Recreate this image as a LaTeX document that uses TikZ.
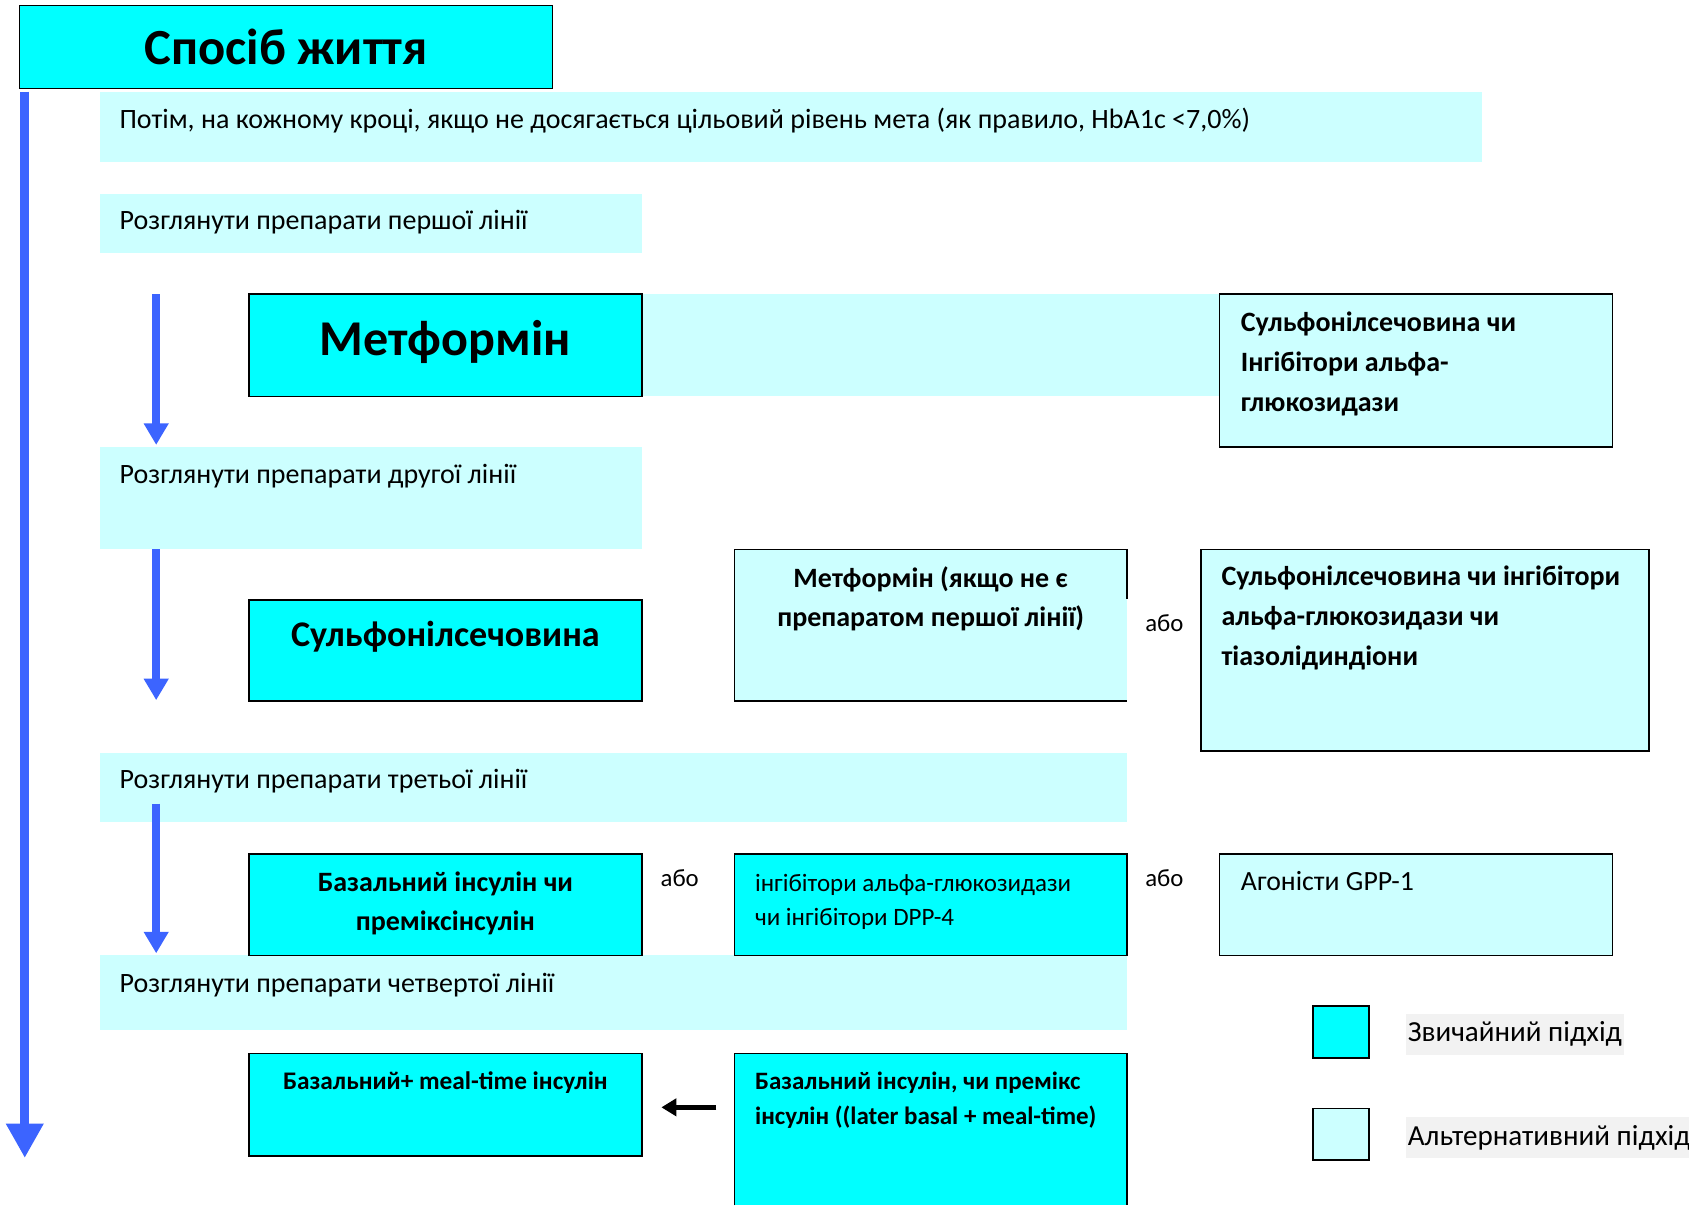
\documentclass[tikz,border=0pt]{standalone}
\usepackage{fontspec}
\setmainfont{Carlito}
\usetikzlibrary{arrows.meta,calc}
\definecolor{usual}{HTML}{00FFFF}
\definecolor{altern}{HTML}{CCFFFF}
\definecolor{flowblue}{RGB}{60,100,255}
\definecolor{legendbg}{HTML}{F2F2F2}
\newcommand{\fsz}[2]{\fontsize{#1}{#2}\selectfont}
\newcommand{\firstline}{\rule{0pt}{1em}}
\begin{document}
\begin{tikzpicture}[x=1pt,y=-1pt,
  every node/.style={inner sep=0pt,outer sep=0pt},
  sz/.style 2 args={minimum width=#1pt,minimum height=#2pt},
  frame/.style={draw=black,line width=1.5pt},
  usualbox/.style={frame,fill=usual,anchor=north west},
  altbox/.style={frame,fill=altern,anchor=north west},
  band/.style={fill=altern,anchor=north west},
  steptext/.style={font=\fsz{26}{31},anchor=base west},
  boldtext/.style={font={\bfseries\fsz{26}{37}}},
  ortext/.style={font=\fsz{23}{28},anchor=base},
  legtext/.style={font=\fsz{27}{33},anchor=base west,fill=legendbg,
    text height=26pt,text depth=12pt,inner xsep=2pt},
  flow/.style={draw=flowblue,line width=7pt,-{Triangle[width=22pt,length=20pt]}},
]
\useasboundingbox (0,0) rectangle (1568,1119);

% light bands for the treatment steps
\node[band,sz={1283}{65}] (goal) at (93,85) {};
\node[band,sz={503}{55}] (line1) at (93,180) {};
\node[band,sz={901}{95}] (metband) at (231,273) {};
\node[band,sz={503}{95}] (line2) at (93,415) {};
\node[band,sz={953}{64}] (line3) at (93,699) {};
\node[band,sz={953}{69}] (line4) at (93,887) {};

% boxes
\node[usualbox,sz={495}{77}] (life) at (18,5) {};
\node[usualbox,sz={365}{95}] (metf) at (231,273) {};
\node[altbox,sz={365}{142}] (sualt) at (1132,273) {};
\node[usualbox,sz={365}{94}] (sulf) at (231,557) {};
\node[band,sz={364}{141}] (metf2) at (682,510) {};
\draw[line width=1.5pt] ($(metf2.north east)+(0,46)$) -- (metf2.north east)
  -- (metf2.north west) -- (metf2.south west) -- (metf2.south east);
\node[altbox,sz={416}{187}] (suthree) at (1115,510) {};
\node[usualbox,sz={365}{94}] (basal) at (231,793) {};
\node[usualbox,sz={364}{94}] (inhib) at (682,793) {};
\node[altbox,sz={365}{94}] (agon) at (1132,793) {};
\node[usualbox,sz={365}{95}] (bmeal) at (231,978) {};
\node[fill=usual,anchor=north west,sz={364}{141}] (bpre) at (682,978) {};
\draw[line width=1.5pt] (bpre.south west) -- (bpre.north west)
  -- (bpre.north east) -- (bpre.south east);
\node[usualbox,sz={52}{48}] (legusual) at (1219,934) {};
\node[altbox,sz={52}{48}] (legalt) at (1219,1029) {};

% texts
\node[font={\bfseries\fsz{47}{52}},anchor=base] (lifet) at (265.5,60) {Спосіб життя};
\node[steptext] (goalt) at (111,119) {Потім, на кожному кроці, якщо не досягається цільовий рівень мета (як правило, HbA1c <7,0\%)};
\node[steptext] (line1t) at (111,213) {Розглянути препарати першої лінії};
\node[font={\bfseries\fsz{46.5}{52}},anchor=base] (metft) at (413.5,330) {Метформін};
\node[boldtext,anchor=north west,align=left] (sualtt) at (1152,282)
  {\firstline Сульфонілсечовина чи\\Інгібітори альфа-\\глюкозидази};
\node[steptext] (line2t) at (111,449) {Розглянути препарати другої лінії};
\node[font={\bfseries\fsz{33.5}{40}},anchor=base] (sulft) at (413.5,600) {Сульфонілсечовина};
\node[boldtext,anchor=north,align=center] (metf2t) at (864,519)
  {\firstline Метформін (якщо не є\\препаратом першої лінії)};
\node[ortext] (orA) at (1081,586) {або};
\node[boldtext,anchor=north west,align=left] (suthreet) at (1134,518)
  {\firstline Сульфонілсечовина чи інгібітори\\альфа-глюкозидази чи\\тіазолідиндіони};
\node[steptext] (line3t) at (111,732) {Розглянути препарати третьої лінії};
\node[font={\bfseries\fsz{26}{36}},anchor=north,align=center] (basalt) at (413.5,802)
  {\firstline Базальний інсулін чи\\преміксінсулін};
\node[ortext] (orB) at (631,823) {або};
\node[font=\fsz{23.2}{32},anchor=north west,align=left] (inhibt) at (701,804)
  {\firstline інгібітори альфа-глюкозидази\\чи інгібітори DPP-4};
\node[ortext] (orC) at (1081,823) {або};
\node[font=\fsz{25.8}{30},anchor=base west] (agont) at (1152,827) {Агоністи GPP-1};
\node[steptext] (line4t) at (111,921) {Розглянути препарати четвертої лінії};
\node[font={\bfseries\fsz{23.5}{30}},anchor=base] (bmealt) at (413.5,1011) {Базальний+ meal-time інсулін};
\node[font={\bfseries\fsz{23.2}{33}},anchor=north west,align=left] (bpret) at (701,988)
  {\firstline Базальний інсулін, чи премікс\\інсулін ((later basal + meal-time)};
\node[legtext] (legusualt) at (1305,967) {Звичайний підхід};
\node[legtext] (legaltt) at (1305,1063) {Альтернативний підхід};

% flow arrows
\coordinate (mainTop) at (23,85);
\coordinate (mainEnd) at (23,1075);
\draw[draw=flowblue,line width=8pt,-{Triangle[width=33pt,length=32pt]}] (mainTop) -- (mainEnd);
\coordinate (fA) at (145,273); \coordinate (tA) at (145,413);
\coordinate (fB) at (145,510); \coordinate (tB) at (145,650);
\coordinate (fC) at (145,746); \coordinate (tC) at (145,885);
\draw[flow] (fA) -- (tA);
\draw[flow] (fB) -- (tB);
\draw[flow] (fC) -- (tC);
\coordinate (backFrom) at (665,1028);
\coordinate (backTo) at (614,1028);
\draw[black,line width=5pt,-{Triangle[width=16pt,length=14pt]}] (backFrom) -- (backTo);
\end{tikzpicture}
\end{document}
